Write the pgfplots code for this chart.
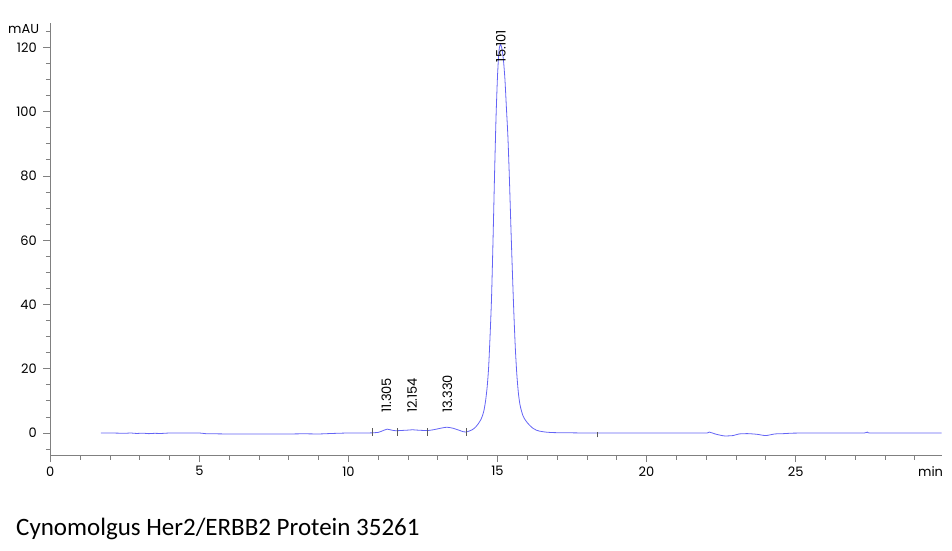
\documentclass[border=0pt]{standalone}
\usepackage{pgfplots}
\pgfplotsset{compat=1.18}
\usepackage{fontspec}
\setmainfont{Poppins}
\newfontfamily\titlefont{Carlito}
\definecolor{trace}{RGB}{100,100,245}
\definecolor{axgray}{RGB}{128,128,128}
\definecolor{mk}{RGB}{90,90,90}
\begin{document}
\begin{tikzpicture}[x=1bp,y=1bp]
\useasboundingbox (0,0) rectangle (952,-551);
\begin{axis}[
  at={(50.3bp,-455bp)}, anchor=south west,
  scale only axis, width=891.4bp, height=432.3bp,
  xmin=0, xmax=29.9, ymin=-6.85, ymax=127.7,
  axis x line*=bottom, axis y line*=left,
  xtick={0,5,...,25}, minor xtick={0,1,...,29},
  ytick={0,20,...,120}, minor ytick={-5,0,...,125},
  tick align=outside, major tick length=7bp, minor tick length=4.5bp,
  every tick/.style={axgray, line width=0.8bp},
  axis line style={axgray, line width=0.8bp},
  tick label style={font=\fontsize{13bp}{15bp}\selectfont, text=black},
  yticklabel style={xshift=-3bp},
  xticklabel style={yshift=-1bp},
  /pgf/number format/assume math mode=true,
  clip=false,
  unbounded coords=jump,
]
\addplot[trace, line width=0.8bp, smooth, tension=0.4] coordinates {
(1.7,0) (2.0,0) (2.3,-0.05) (2.5,-0.1) (2.7,0) (2.9,-0.15) (3.1,-0.05) (3.3,-0.2)
(3.5,-0.1) (3.7,-0.15) (3.9,-0.05) (4.0,0) (4.5,0) (5.0,0) (5.2,-0.2) (5.5,-0.25)
(6.0,-0.3) (7.0,-0.3) (8.0,-0.3) (8.5,-0.25) (9.0,-0.3) (9.3,-0.2) (9.6,-0.1)
(10.0,0) (10.5,0) (10.8,0.05) (11.0,0.2) (11.1,0.5) (11.2,0.9) (11.3,1.2)
(11.4,1.0) (11.5,0.8) (11.6,0.7) (11.8,0.8) (12.0,0.9) (12.15,1.0) (12.3,0.9)
(12.5,0.8) (12.7,0.8) (12.9,1.1) (13.1,1.5) (13.3,1.8) (13.5,1.5) (13.7,0.9)
(13.85,0.4) (13.95,0.3) (14.05,0.6) (14.15,1.0) (14.25,1.7) (14.35,2.8) (14.45,4.3)
(14.5,5.5) (14.55,7.2) (14.6,10) (14.65,14) (14.7,20) (14.75,30) (14.8,42)
(14.85,60) (14.9,80) (14.95,98) (15.0,111) (15.05,119) (15.1,121) (15.15,119.5)
(15.2,116) (15.25,110) (15.3,101) (15.35,92) (15.4,79) (15.45,64) (15.5,50)
(15.55,37) (15.6,26) (15.65,18) (15.7,12.5) (15.75,9) (15.8,7) (15.85,5.5)
(15.9,4.5) (16.0,3.2) (16.1,2.2) (16.2,1.4) (16.3,0.9) (16.4,0.6) (16.6,0.3)
(16.8,0.15) (17.0,0.1) (17.5,0.05) (18.0,0) (19.0,0) (20.0,0) (21.0,0) (22.0,0)
(22.1,0.3) (22.3,-0.3) (22.6,-0.9) (22.9,-0.8) (23.1,-0.3) (23.4,-0.2) (23.7,-0.4)
(24.0,-0.8) (24.3,-0.3) (24.6,-0.2) (24.9,-0.05) (25.5,0) (26.5,0) (27.3,0)
(27.4,0.3) (27.5,0) (28.5,0) (29.9,0)
};
\addplot[mk, line width=0.7bp] coordinates {
(10.79,-0.8) (10.79,1.4) (nan,nan)
(11.63,-0.8) (11.63,1.6) (nan,nan)
(12.66,-0.8) (12.66,1.5) (nan,nan)
(13.95,-0.8) (13.95,1.4) (nan,nan)
(18.34,-1.4) (18.34,0.2)
};
\node[rotate=90, anchor=west, inner sep=0, font=\fontsize{13bp}{15bp}\selectfont] at (axis cs:11.27,6.2) {11.305};
\node[rotate=90, anchor=west, inner sep=0, font=\fontsize{13bp}{15bp}\selectfont] at (axis cs:12.14,6.2) {12.154};
\node[rotate=90, anchor=west, inner sep=0, font=\fontsize{13bp}{15bp}\selectfont] at (axis cs:13.32,6.2) {13.330};
\node[rotate=90, anchor=west, inner sep=0, font=\fontsize{13bp}{15bp}\selectfont] at (axis cs:15.11,115.4) {15.101};
\node[anchor=base east, inner sep=0, font=\fontsize{13bp}{15bp}\selectfont] at (axis cs:0,124.4) [xshift=-11bp] {mAU};
\node[anchor=base east, inner sep=0, font=\fontsize{13bp}{15bp}\selectfont] at (rel axis cs:1,0) [xshift=1.5bp, yshift=-21.7bp] {min};
\end{axis}
\node[anchor=base west, inner sep=0, font=\titlefont\fontsize{25bp}{30bp}\selectfont] at (16,-535) {Cynomolgus Her2/ERBB2 Protein 35261};
\end{tikzpicture}
\end{document}
